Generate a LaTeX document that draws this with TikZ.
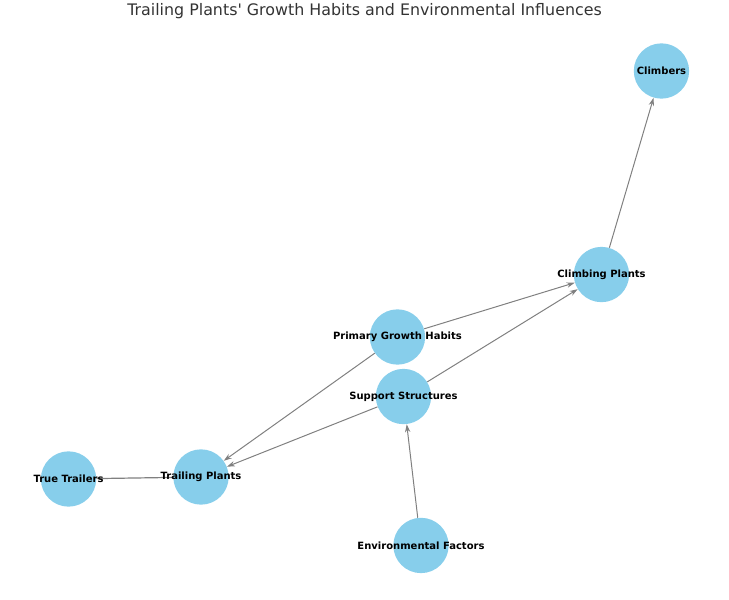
\documentclass[tikz,border=0pt]{standalone}
\usepackage{fontspec}
\setmainfont{DejaVu Sans}
\usetikzlibrary{arrows.meta}
\definecolor{nodeblue}{HTML}{87CEEB}
\definecolor{edgegray}{HTML}{808080}
\definecolor{titlegray}{HTML}{333333}
\tikzset{
  plant/.style={circle, fill=nodeblue, draw=none, minimum size=41.5pt, inner sep=0pt},
  plantlabel/.style={inner sep=0pt, font=\fontsize{7.5pt}{9pt}\selectfont\bfseries, text=black},
  link/.style={draw=edgegray, line width=0.75pt, -{Stealth[length=6pt,width=4pt]}},
  plainlink/.style={draw=edgegray, line width=0.9pt},
}
\begin{document}
\begin{tikzpicture}[x=1pt,y=1pt]
\useasboundingbox (0,0) rectangle (546.75,450);
\node[font=\fontsize{11.9pt}{14pt}\selectfont, text=titlegray] (title) at (273.4,442) {Trailing Plants\textquotesingle{} Growth Habits and Environmental Influences};
\node[plant] (climbers) at (496.1,396.75) {};
\node[plant] (climbing) at (451.1,244.1) {};
\node[plant] (primary) at (298.1,197.25) {};
\node[plant] (support) at (302.6,152.6) {};
\node[plant] (trailing) at (150.75,92.25) {};
\node[plant] (truetr) at (51.4,90.75) {};
\node[plant] (env) at (315.75,40.9) {};
\draw[link] (climbing) -- (climbers);
\draw[link] (primary) -- (climbing);
\draw[link] (support) -- (climbing);
\draw[link] (primary) -- (trailing);
\draw[link] (support) -- (trailing);
\draw[link] (env) -- (support);
\draw[plainlink] (truetr) -- (trailing);
\node[plantlabel] (climbersL) at (climbers) {Climbers};
\node[plantlabel] (climbingL) at (climbing) {Climbing Plants};
\node[plantlabel] (primaryL) at (primary) {Primary Growth Habits};
\node[plantlabel] (supportL) at (support) {Support Structures};
\node[plantlabel] (trailingL) at (trailing) {Trailing Plants};
\node[plantlabel] (truetrL) at (truetr) {True Trailers};
\node[plantlabel] (envL) at (env) {Environmental Factors};
\end{tikzpicture}
\end{document}
